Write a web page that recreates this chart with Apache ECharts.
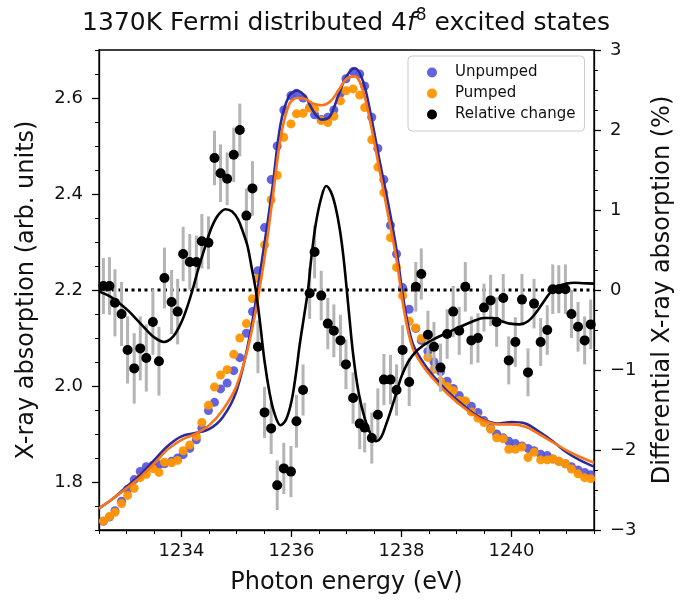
<!DOCTYPE html>
<html>
<head>
<meta charset="utf-8">
<script src="https://cdn.jsdelivr.net/npm/echarts@6/dist/echarts.min.js"></script>
<style>
html,body{margin:0;padding:0;background:#fff;}
#chart{width:692px;height:604px;}
</style>
</head>
<body>
<div id="chart"></div>
<script>
// ---- data ----
const energy = [1232.58,1232.69,1232.79,1232.91,1233.02,1233.14,1233.25,1233.36,1233.48,1233.59,
  1233.69,1233.82,1233.93,1234.03,1234.15,1234.27,1234.37,1234.49,1234.60,1234.71,
  1234.83,1234.95,1235.06,1235.18,1235.29,1235.39,1235.51,1235.63,1235.74,1235.86,
  1235.99,1236.09,1236.21,1236.33,1236.42,1236.54,1236.66,1236.77,1236.89,1236.99,
  1237.12,1237.24,1237.33,1237.46,1237.57,1237.68,1237.80,1237.91,1238.02,1238.14,
  1238.26,1238.36,1238.48,1238.59,1238.71,1238.83,1238.94,1239.05,1239.16,1239.27,
  1239.39,1239.50,1239.62,1239.73,1239.85,1239.95,1240.07,1240.19,1240.30,1240.41,
  1240.53,1240.65,1240.75,1240.86,1240.98,1241.09,1241.21,1241.33,1241.44];
const unpumped = [1.718,1.727,1.740,1.760,1.785,1.805,1.822,1.832,1.835,1.836,
  1.838,1.843,1.850,1.857,1.870,1.888,1.912,1.949,1.966,1.994,
  2.006,2.032,2.059,2.110,2.155,2.240,2.330,2.430,2.500,2.575,
  2.605,2.610,2.600,2.580,2.565,2.555,2.560,2.575,2.610,2.640,
  2.655,2.650,2.625,2.560,2.495,2.430,2.335,2.275,2.205,2.160,
  2.120,2.095,2.072,2.050,2.030,2.010,1.995,1.980,1.968,1.958,
  1.945,1.928,1.912,1.900,1.892,1.885,1.880,1.875,1.870,1.865,
  1.858,1.855,1.848,1.843,1.838,1.832,1.825,1.820,1.815];
const pumped = [1.719,1.728,1.737,1.755,1.772,1.787,1.809,1.816,1.828,1.820,
  1.841,1.840,1.845,1.865,1.877,1.895,1.924,1.960,1.998,2.023,
  2.034,2.066,2.100,2.130,2.182,2.224,2.294,2.388,2.439,2.518,
  2.546,2.567,2.568,2.579,2.577,2.553,2.549,2.562,2.594,2.615,
  2.619,2.606,2.580,2.513,2.456,2.403,2.309,2.247,2.188,2.135,
  2.121,2.099,2.060,2.035,2.010,1.999,1.990,1.970,1.969,1.946,
  1.933,1.924,1.910,1.892,1.890,1.868,1.868,1.873,1.851,1.862,
  1.846,1.846,1.848,1.843,1.838,1.827,1.817,1.809,1.807];
const relChange = [0.05,0.05,-0.16,-0.30,-0.75,-0.98,-0.73,-0.85,-0.40,-0.89,
  0.15,-0.15,-0.27,0.45,0.35,0.35,0.61,0.59,1.65,1.46,
  1.39,1.69,2.00,0.93,1.27,-0.71,-1.53,-1.73,-2.44,-2.23,
  -2.27,-1.64,-1.25,-0.04,0.475,-0.07,-0.42,-0.51,-0.63,-0.93,
  -1.35,-1.67,-1.72,-1.85,-1.56,-1.12,-1.12,-1.25,-0.75,-1.15,
  0.04,0.20,-0.56,-0.71,-0.97,-0.55,-0.27,-0.51,0.04,-0.63,
  -0.60,-0.22,-0.13,-0.40,-0.10,-0.88,-0.65,-0.12,-1.03,-0.17,
  -0.65,-0.50,0.01,0.01,0.01,-0.30,-0.46,-0.63,-0.43];
const relError = [0.35,0.36,0.42,0.40,0.42,0.44,0.40,0.42,0.41,0.43,
  0.38,0.40,0.41,0.34,0.35,0.33,0.34,0.33,0.34,0.36,
  0.33,0.34,0.33,0.34,0.34,0.33,0.32,0.32,0.31,0.32,
  0.32,0.33,0.32,0.32,0.33,0.31,0.32,0.33,0.32,0.31,
  0.32,0.32,0.31,0.32,0.33,0.32,0.31,0.32,0.31,0.30,
  0.31,0.32,0.30,0.31,0.30,0.31,0.32,0.30,0.31,0.30,
  0.31,0.30,0.32,0.31,0.30,0.30,0.31,0.32,0.30,0.31,
  0.30,0.31,0.31,0.30,0.31,0.30,0.31,0.30,0.31];
const fitEnergy = [1232.5,1232.75,1233.0,1233.25,1233.5,1233.75,1234.0,1234.25,1234.5,1234.75,
  1235.0,1235.25,1235.5,1235.65,1235.8,1235.95,1236.1,1236.25,1236.4,1236.55,
  1236.7,1236.85,1237.0,1237.15,1237.3,1237.45,1237.6,1237.75,1237.9,1238.05,
  1238.2,1238.4,1238.6,1238.8,1239.0,1239.25,1239.5,1239.75,1240.0,1240.25,
  1240.5,1240.75,1241.0,1241.25,1241.5];
const fitUnpumped = [1.745,1.765,1.790,1.815,1.845,1.875,1.895,1.902,1.910,1.935,
  1.990,2.110,2.290,2.410,2.545,2.603,2.615,2.603,2.572,2.555,
  2.562,2.605,2.645,2.662,2.635,2.560,2.470,2.385,2.290,2.170,
  2.090,2.048,2.018,1.993,1.972,1.948,1.930,1.922,1.925,1.922,
  1.905,1.885,1.862,1.845,1.832];
const fitPumped = [1.745,1.765,1.787,1.810,1.838,1.868,1.888,1.900,1.918,1.950,
  2.000,2.100,2.260,2.385,2.515,2.585,2.600,2.598,2.588,2.585,
  2.592,2.615,2.640,2.645,2.615,2.540,2.450,2.360,2.270,2.155,
  2.080,2.040,2.012,1.988,1.967,1.945,1.928,1.920,1.920,1.915,
  1.900,1.883,1.866,1.852,1.840];
const relFitEnergy = [1232.5,1232.7,1232.9,1233.05,1233.2,1233.35,1233.5,1233.68,1233.85,1234.0,
  1234.1,1234.2,1234.3,1234.42,1234.54,1234.66,1234.8,1234.92,1235.03,1235.12,
  1235.2,1235.27,1235.35,1235.43,1235.51,1235.6,1235.68,1235.8,1235.9,1236.0,
  1236.08,1236.15,1236.23,1236.3,1236.36,1236.44,1236.54,1236.63,1236.72,1236.8,
  1236.88,1236.95,1237.04,1237.12,1237.22,1237.33,1237.45,1237.54,1237.63,1237.72,
  1237.8,1237.9,1238.0,1238.12,1238.25,1238.4,1238.6,1238.85,1239.1,1239.3,
  1239.5,1239.66,1239.82,1239.97,1240.15,1240.3,1240.45,1240.6,1240.72,1240.85,
  1241.0,1241.15,1241.3,1241.5];
const relFit = [-0.02,-0.08,-0.18,-0.27,-0.38,-0.49,-0.59,-0.65,-0.58,-0.40,
  -0.22,0.0,0.25,0.52,0.77,0.93,1.01,0.98,0.88,0.72,
  0.55,0.30,0.0,-0.42,-0.89,-1.28,-1.52,-1.69,-1.62,-1.39,
  -1.05,-0.68,-0.32,0.0,0.40,0.82,1.15,1.30,1.22,1.04,
  0.75,0.38,-0.25,-0.80,-1.28,-1.60,-1.82,-1.89,-1.84,-1.68,
  -1.52,-1.30,-1.08,-0.90,-0.78,-0.69,-0.61,-0.53,-0.45,-0.39,
  -0.35,-0.35,-0.39,-0.42,-0.43,-0.39,-0.28,-0.13,-0.02,0.05,
  0.08,0.09,0.085,0.08];
const xTicks = [1234,1236,1238,1240];
const yLeftTicks = [1.8,2.0,2.2,2.4,2.6];
const titleParts = ['1370K Fermi distributed 4','f','8',' excited states'];
const xName = 'Photon energy (eV)';
const yLeftName = 'X-ray absorption (arb. units)';
const yRightName = 'Differential X-ray absorption (%)';
const legendNames = ['Unpumped','Pumped','Relative change'];

// ---- chart ----
const FF = 'DejaVu Sans';
const TXT = '#111';
const zip = (a,b) => a.map((v,i)=>[v,b[i]]);
const chart = echarts.init(document.getElementById('chart'), null, {renderer:'canvas'});

const option = {
  animation:false,
  backgroundColor:'#fff',
  title:{
    text:'{a|'+titleParts[0]+'}{i|'+titleParts[1]+'}{s|'+titleParts[2]+'}{a|'+titleParts[3]+'}',
    left:'center', top:2,
    textStyle:{
      fontWeight:'normal',
      rich:{
        a:{fontSize:25,fontFamily:FF,fontWeight:'normal',color:TXT,lineHeight:32},
        i:{fontSize:25,fontFamily:FF,fontWeight:'normal',fontStyle:'italic',color:TXT,lineHeight:32},
        s:{fontSize:17,fontFamily:FF,fontWeight:'normal',color:TXT,verticalAlign:'top',lineHeight:20}
      }
    }
  },
  grid:{left:99,right:98,top:50,bottom:74,show:true,borderColor:'#000',borderWidth:1.3,backgroundColor:'transparent'},
  legend:{
    data:legendNames, orient:'vertical', left:408, top:56,
    itemWidth:36, itemHeight:10, itemGap:6, padding:[9,9,9,19],
    icon:'circle',
    borderColor:'#cccccc', borderWidth:1, borderRadius:4,
    backgroundColor:'rgba(255,255,255,0.8)',
    textStyle:{fontSize:15,fontFamily:FF,color:TXT}
  },
  xAxis:[
    {type:'value',min:1232.5,max:1241.5,position:'bottom',
     name:xName,nameLocation:'middle',nameGap:41,
     nameTextStyle:{fontSize:24,fontFamily:FF,color:TXT},
     axisLine:{show:true,onZero:false,lineStyle:{color:'#000',width:1.3}},
     axisTick:{show:true,inside:false,length:7,customValues:xTicks,lineStyle:{color:'#000',width:1.3}},
     axisLabel:{show:true,customValues:xTicks,fontSize:18,fontFamily:FF,color:TXT,margin:12,
       formatter:v=>String(v)},
     splitLine:{show:false}},
    {type:'value',min:1232.5,max:1241.5,interval:0.5,position:'bottom',
     axisLine:{show:false,onZero:false},
     axisTick:{show:true,length:4,lineStyle:{color:'#000',width:1}},
     axisLabel:{show:false},splitLine:{show:false}}
  ],
  yAxis:[
    {type:'value',min:1.7,max:2.7,position:'left',
     name:yLeftName,nameLocation:'middle',nameGap:60,
     nameTextStyle:{fontSize:24,fontFamily:FF,color:TXT},
     axisLine:{show:true,onZero:false,lineStyle:{color:'#000',width:1.3}},
     axisTick:{show:true,length:7,customValues:yLeftTicks,lineStyle:{color:'#000',width:1.3}},
     axisLabel:{show:true,customValues:yLeftTicks,fontSize:18,fontFamily:FF,color:TXT,margin:16,
       formatter:v=>v.toFixed(1)},
     splitLine:{show:false}},
    {type:'value',min:-3,max:3,interval:1,position:'right',
     name:yRightName,nameLocation:'middle',nameGap:57,
     nameTextStyle:{fontSize:24,fontFamily:FF,color:TXT},
     axisLine:{show:true,onZero:false,lineStyle:{color:'#000',width:1.3}},
     axisTick:{show:true,length:7,lineStyle:{color:'#000',width:1.3}},
     minorTick:{show:true,splitNumber:4,length:4,lineStyle:{color:'#000',width:1}},
     axisLabel:{show:true,fontSize:18,fontFamily:FF,color:TXT,margin:16,
       formatter:v=>String(v).replace('-','\u2212')},
     splitLine:{show:false},minorSplitLine:{show:false}},
    {type:'value',min:1.7,max:2.7,interval:0.05,position:'left',
     axisLine:{show:false,onZero:false},
     axisTick:{show:true,length:4,lineStyle:{color:'#000',width:1}},
     axisLabel:{show:false},splitLine:{show:false}}
  ],
  series:[
    {name:'Unpumped',type:'scatter',xAxisIndex:0,yAxisIndex:0,data:zip(energy,unpumped),
     symbol:'circle',symbolSize:9,itemStyle:{color:'#5252dc',opacity:0.9},z:2},
    {name:'Pumped',type:'scatter',xAxisIndex:0,yAxisIndex:0,data:zip(energy,pumped),
     symbol:'circle',symbolSize:9,itemStyle:{color:'#ff9500',opacity:0.95},z:2},
    {name:'Unpumped fit',type:'line',xAxisIndex:0,yAxisIndex:0,data:zip(fitEnergy,fitUnpumped),
     showSymbol:false,smooth:0.35,lineStyle:{color:'#2a2a9c',width:2.6},z:3},
    {name:'Pumped fit',type:'line',xAxisIndex:0,yAxisIndex:0,data:zip(fitEnergy,fitPumped),
     showSymbol:false,smooth:0.35,lineStyle:{color:'#fa7418',width:2.6},z:3},
    {name:'zero',type:'line',xAxisIndex:0,yAxisIndex:1,data:[[1232.5,0],[1241.5,0]],
     showSymbol:false,lineStyle:{color:'#000',width:2.8,type:[3,3.5]},z:4},
    {name:'errors',type:'custom',xAxisIndex:0,yAxisIndex:1,
     data:energy.map((e,i)=>[e,relChange[i],relError[i]]),
     encode:{x:0,y:1},
     renderItem:(params,api)=>{
       const x=api.value(0), y=api.value(1), er=api.value(2);
       const p1=api.coord([x,y-er]), p2=api.coord([x,y+er]);
       return {type:'line',shape:{x1:p1[0],y1:p1[1],x2:p2[0],y2:p2[1]},
               style:{stroke:'#b4b4b4',lineWidth:3}};
     },z:5},
    {name:'Relative change',type:'scatter',xAxisIndex:0,yAxisIndex:1,data:zip(energy,relChange),
     symbol:'circle',symbolSize:10,itemStyle:{color:'#000',opacity:1},z:6},
    {name:'Relative fit',type:'line',xAxisIndex:0,yAxisIndex:1,data:zip(relFitEnergy,relFit),
     showSymbol:false,smooth:0.35,lineStyle:{color:'#000',width:2.6},z:7}
  ]
};
chart.setOption(option);
</script>
</body>
</html>
